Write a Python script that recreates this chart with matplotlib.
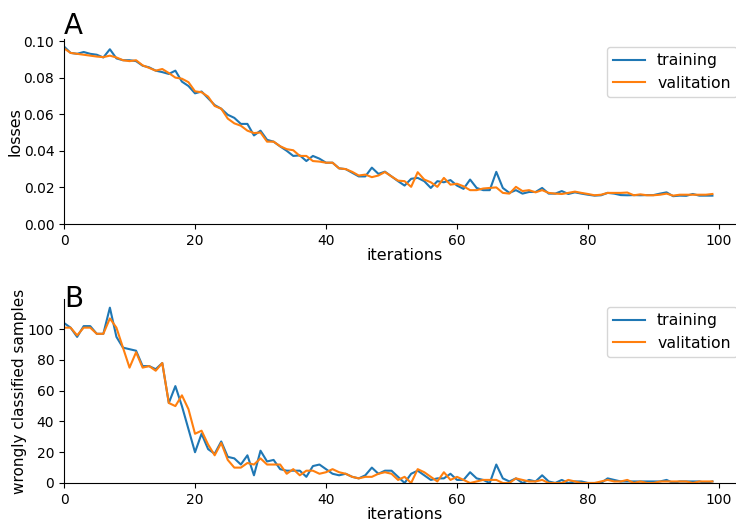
import matplotlib
matplotlib.use('Agg')
import matplotlib.pyplot as plt
from matplotlib.ticker import MultipleLocator
import numpy as np

ITERATIONS = np.arange(100)

LOSS_TRAIN = [0.097, 0.0935, 0.093, 0.094, 0.093, 0.0925, 0.091, 0.0955, 0.0905, 0.0895,
              0.0895, 0.089, 0.0865, 0.0856, 0.0838, 0.083, 0.082, 0.0838, 0.0778, 0.0754,
              0.0714, 0.0724, 0.0687, 0.065, 0.063, 0.0597, 0.058, 0.0547, 0.0547, 0.0484,
              0.051, 0.046, 0.045, 0.0424, 0.040, 0.0372, 0.0375, 0.0344, 0.0372, 0.0357,
              0.0335, 0.0335, 0.0304, 0.030, 0.028, 0.026, 0.026, 0.0308, 0.0274, 0.0286,
              0.026, 0.0234, 0.021, 0.0247, 0.0252, 0.0234, 0.0197, 0.0234, 0.0228, 0.024,
              0.021, 0.0192, 0.0243, 0.0197, 0.0185, 0.0185, 0.0285, 0.0197, 0.017, 0.0185,
              0.0166, 0.0175, 0.0175, 0.0197, 0.0166, 0.0166, 0.018, 0.0164, 0.0173, 0.0166,
              0.016, 0.0155, 0.0157, 0.017, 0.0166, 0.0158, 0.0157, 0.0158, 0.0157, 0.0158,
              0.0158, 0.0166, 0.0173, 0.0152, 0.0155, 0.0154, 0.0164, 0.0155, 0.0155, 0.0155]

LOSS_VAL = [0.096, 0.0935, 0.093, 0.0925, 0.092, 0.0915, 0.0912, 0.092, 0.091, 0.0895,
            0.089, 0.0895, 0.0867, 0.0853, 0.0838, 0.0847, 0.0825, 0.080, 0.0794, 0.0775,
            0.0725, 0.072, 0.0696, 0.0645, 0.063, 0.0576, 0.055, 0.0537, 0.051, 0.0497,
            0.050, 0.045, 0.045, 0.0425, 0.0409, 0.0403, 0.0372, 0.0372, 0.0344, 0.0341,
            0.0335, 0.0335, 0.0304, 0.030, 0.0285, 0.0265, 0.027, 0.0256, 0.0265, 0.0284,
            0.026, 0.0237, 0.0234, 0.0203, 0.0283, 0.0243, 0.0228, 0.0203, 0.0252, 0.0215,
            0.022, 0.0206, 0.0185, 0.0185, 0.0194, 0.0197, 0.020, 0.017, 0.0166, 0.0203,
            0.018, 0.0185, 0.0173, 0.0185, 0.017, 0.0166, 0.0164, 0.017, 0.0177, 0.017,
            0.0164, 0.0157, 0.016, 0.017, 0.017, 0.017, 0.0172, 0.0157, 0.0162, 0.0157,
            0.0157, 0.016, 0.0166, 0.0155, 0.016, 0.016, 0.016, 0.016, 0.016, 0.0164]

WRONG_TRAIN = [104, 101, 95, 102, 102, 97, 97, 114, 95, 88,
               87, 86, 76, 76, 74, 78, 52, 63, 50, 35,
               20, 32, 22, 19, 27, 17, 16, 12, 18, 5,
               21, 14, 15, 9, 8, 8, 8, 4, 11, 12,
               9, 6, 5, 6, 4, 3, 5, 10, 6, 8,
               8, 4, 0, 6, 8, 5, 2, 3, 3, 6,
               2, 2, 7, 3, 2, 0, 12, 3, 1, 3,
               0, 2, 1, 5, 1, 0, 2, 0, 1, 1,
               0, 0, 0, 3, 2, 1, 1, 1, 1, 1,
               1, 1, 2, 0, 1, 1, 1, 1, 0, 1]

WRONG_VAL = [101, 101, 96, 101, 101, 97, 97, 107, 101, 88,
             75, 85, 75, 76, 73, 78, 52, 50, 57, 48,
             32, 34, 25, 18, 26, 15, 10, 10, 13, 12,
             16, 12, 12, 12, 6, 9, 5, 8, 8, 6,
             7, 9, 7, 6, 4, 3, 4, 4, 6, 7,
             6, 2, 4, 0, 9, 7, 4, 1, 7, 2,
             4, 2, 0, 1, 2, 2, 2, 0, 0, 3,
             2, 1, 1, 2, 0, 0, 0, 2, 1, 0,
             0, 0, 1, 2, 1, 1, 2, 0, 1, 0,
             0, 1, 1, 1, 1, 1, 0, 1, 1, 1]


fig = plt.figure(figsize=(7.36, 5.23), dpi=100)
ax1 = fig.add_axes([0.087, 0.5717, 0.925, 0.3537])
ax2 = fig.add_axes([0.087, 0.0765, 0.925, 0.352])

ax1.plot(ITERATIONS, LOSS_TRAIN, label='training')
ax1.plot(ITERATIONS, LOSS_VAL, label='valitation')
ax1.set_ylabel('losses', fontsize=11.5, labelpad=1)

ax2.plot(ITERATIONS, WRONG_TRAIN, label='training')
ax2.plot(ITERATIONS, WRONG_VAL, label='valitation')
ax2.set_ylabel('wrongly classified samples', fontsize=11, labelpad=1)
ax2.yaxis.set_major_locator(MultipleLocator(20))

for ax in (ax1, ax2):
    ax.set_xlim(left=0)
    ax.set_ylim(bottom=0)
    ax.set_xlabel('iterations', fontsize=11.5, labelpad=0.5)
    ax.spines['top'].set_visible(False)
    ax.spines['right'].set_visible(False)
    ax.legend(loc='upper right', fontsize=11.3)

fig.text(0.087, 0.935, 'A', fontsize=20)
fig.text(0.087, 0.413, 'B', fontsize=20)

fig.savefig('out.png', dpi=100)
